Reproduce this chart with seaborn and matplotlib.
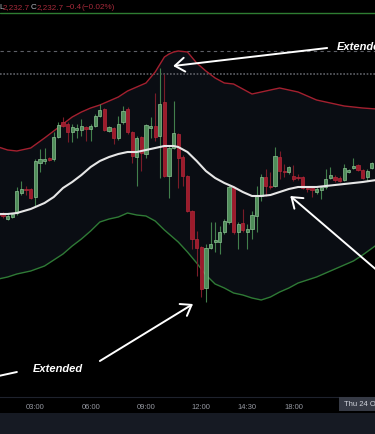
import matplotlib
matplotlib.use("Agg")
import matplotlib.pyplot as plt
from matplotlib.patches import Rectangle
import numpy as np
import pandas as pd
import seaborn as sns

# 15 min bars, counted from 00:00 (the 17:00-18:00 break is skipped)
bar_index = list(range(4, 86))
opens = [2278.6, 2278.5, 2278.0, 2278.2, 2278.6, 2280.6, 2281.0, 2281.0, 2280.2, 2283.6,
         2283.8, 2284.1, 2284.0, 2286.2, 2287.7, 2287.5, 2286.7, 2286.9, 2286.9, 2287.2,
         2287.0, 2287.3, 2288.3, 2289.0, 2286.8, 2287.1, 2286.1, 2287.7, 2289.0, 2286.7,
         2284.2, 2286.2, 2284.5, 2287.1, 2287.3, 2286.3, 2289.7, 2282.3, 2285.1, 2286.5,
         2284.2, 2282.3, 2278.8, 2276.0, 2275.2, 2271.1, 2275.1, 2275.7, 2275.7, 2276.7,
         2277.7, 2281.2, 2276.7, 2277.6, 2276.7, 2277.0, 2278.3, 2280.3, 2282.2, 2281.3,
         2281.3, 2284.2, 2282.8, 2282.7, 2282.3, 2282.2, 2282.2, 2281.1, 2281.1, 2280.7,
         2280.9, 2281.2, 2282.1, 2282.2, 2282.1, 2281.9, 2282.7, 2283.1, 2283.4, 2282.9,
         2282.2, 2283.1]
highs = [2278.8, 2278.7, 2278.5, 2278.6, 2281.2, 2281.8, 2281.3, 2281.1, 2284.0, 2285.0,
         2285.1, 2284.2, 2286.7, 2287.7, 2288.2, 2287.7, 2287.5, 2287.5, 2288.0, 2287.3,
         2287.5, 2288.5, 2289.5, 2289.1, 2287.3, 2287.2, 2288.3, 2289.3, 2289.2, 2286.8,
         2286.3, 2286.3, 2287.5, 2288.2, 2290.6, 2293.1, 2292.5, 2285.3, 2289.8, 2286.6,
         2284.4, 2282.4, 2278.9, 2276.8, 2275.3, 2275.5, 2277.7, 2277.7, 2277.3, 2278.0,
         2281.4, 2281.3, 2277.7, 2279.0, 2277.5, 2278.8, 2281.3, 2282.5, 2283.0, 2282.7,
         2285.2, 2284.8, 2283.5, 2283.3, 2283.4, 2282.5, 2282.3, 2281.3, 2281.3, 2281.2,
         2281.3, 2283.0, 2283.2, 2282.4, 2282.3, 2283.5, 2283.0, 2284.1, 2283.5, 2283.0,
         2283.0, 2283.7]
lows = [2278.2, 2278.1, 2277.9, 2278.1, 2278.4, 2280.4, 2280.4, 2280.0, 2279.3, 2282.7,
        2283.5, 2283.8, 2283.8, 2286.1, 2287.2, 2285.7, 2285.7, 2286.1, 2286.3, 2285.8,
        2285.8, 2287.2, 2288.2, 2286.8, 2286.7, 2285.5, 2285.9, 2287.5, 2286.5, 2283.6,
        2281.3, 2282.8, 2284.1, 2286.1, 2285.8, 2282.1, 2282.2, 2280.1, 2285.0, 2281.1,
        2281.3, 2278.7, 2275.0, 2272.3, 2270.2, 2269.7, 2275.0, 2274.7, 2274.5, 2276.5,
        2277.5, 2276.5, 2275.0, 2276.7, 2275.0, 2276.0, 2276.7, 2279.8, 2280.3, 2281.0,
        2281.2, 2282.0, 2282.2, 2282.5, 2281.8, 2281.9, 2281.0, 2280.7, 2280.2, 2280.5,
        2280.0, 2281.0, 2282.0, 2281.7, 2281.7, 2281.8, 2282.6, 2283.0, 2282.8, 2282.0,
        2281.8, 2283.0]
closes = [2278.4, 2278.3, 2278.3, 2278.5, 2280.8, 2281.0, 2280.9, 2280.1, 2283.8, 2284.0,
          2284.0, 2283.9, 2286.2, 2287.4, 2287.3, 2286.7, 2287.2, 2287.1, 2287.3, 2287.0,
          2287.3, 2288.3, 2288.9, 2286.9, 2287.2, 2286.1, 2287.5, 2288.8, 2286.7, 2284.3,
          2286.1, 2284.6, 2287.4, 2287.3, 2286.2, 2289.5, 2282.3, 2285.1, 2286.6, 2284.1,
          2282.3, 2278.8, 2276.0, 2275.1, 2271.0, 2275.1, 2275.5, 2275.9, 2276.7, 2277.8,
          2281.2, 2276.7, 2277.5, 2276.9, 2277.0, 2278.4, 2280.3, 2282.2, 2281.3, 2281.2,
          2284.3, 2282.8, 2282.7, 2283.2, 2282.0, 2282.1, 2281.1, 2281.0, 2280.9, 2281.0,
          2281.2, 2282.0, 2282.4, 2281.9, 2281.8, 2283.1, 2282.9, 2283.3, 2282.9, 2282.1,
          2282.8, 2283.6]

# bollinger bands
band_index = [3, 4, 6, 8, 11, 14, 16, 18, 20, 22, 24, 26, 28, 30, 32, 34, 36, 38, 40, 41,
              42, 43, 45, 47, 49, 51, 53, 55, 57, 59, 61, 63, 65, 67, 69, 71, 73, 75, 77, 79,
              81, 83, 86]
band_upper = [2285.3, 2285.2, 2284.9, 2284.8, 2285.1, 2286.1, 2286.8, 2287.5, 2288.2, 2288.7,
              2289.1, 2289.4, 2289.8, 2290.2, 2290.8, 2291.2, 2291.6, 2292.7, 2294.2, 2294.5,
              2294.7, 2294.8, 2294.7, 2293.6, 2292.8, 2292.1, 2291.6, 2291.5, 2291.0, 2290.5,
              2290.7, 2290.9, 2291.1, 2290.9, 2290.7, 2290.3, 2289.9, 2289.7, 2289.5, 2289.3,
              2289.2, 2289.1, 2289.0]
band_mid = [2278.5, 2278.5, 2278.5, 2278.6, 2279.0, 2279.6, 2280.2, 2281.1, 2281.7, 2282.4,
            2283.2, 2283.8, 2284.2, 2284.5, 2284.7, 2284.7, 2284.9, 2285.1, 2285.3, 2285.3,
            2285.3, 2285.2, 2284.7, 2283.8, 2282.8, 2282.1, 2281.6, 2281.2, 2280.7, 2280.3,
            2280.3, 2280.4, 2280.7, 2281.0, 2281.2, 2281.2, 2281.2, 2281.3, 2281.4, 2281.5,
            2281.6, 2281.7, 2281.9]
band_lower = [2271.9, 2272.0, 2272.2, 2272.5, 2272.8, 2273.3, 2273.9, 2274.5, 2275.3, 2276.0,
              2276.8, 2277.7, 2278.0, 2278.2, 2278.6, 2278.4, 2278.3, 2277.8, 2276.9, 2276.5,
              2276.1, 2275.7, 2274.7, 2273.6, 2272.4, 2271.5, 2271.1, 2270.6, 2270.4, 2270.1,
              2269.9, 2270.2, 2270.7, 2271.1, 2271.6, 2271.9, 2272.2, 2272.6, 2273.0, 2273.4,
              2273.8, 2274.4, 2275.4]

tick_index = [12, 24, 36, 48, 58, 68]
tick_labels = ["03:00", "06:00", "09:00", "12:00", "14:30", "18:00"]

top_line = 2298.6
dash_line = 2294.8
dot_line = 2292.5

sns.set_theme(style="dark")
plt.rcParams["font.family"] = ["Liberation Sans", "DejaVu Sans"]

W, H = 375, 435
fig = plt.figure(figsize=(W / 100, H / 100), dpi=100, facecolor="black")
ax = fig.add_axes([0, 37 / H, 1, 398 / H])
ax.set_facecolor("black")
ax.grid(False)

# band cloud + lines
ax.fill_between(band_index, band_lower, band_upper, color="#0a0d13", lw=0, zorder=1)
bands = pd.DataFrame({"bar": band_index, "upper": band_upper, "mid": band_mid, "lower": band_lower})
sns.lineplot(data=bands, x="bar", y="upper", color="#a3202f", lw=1.0, ax=ax, zorder=3)
sns.lineplot(data=bands, x="bar", y="lower", color="#2f7a36", lw=1.0, ax=ax, zorder=3)
sns.lineplot(data=bands, x="bar", y="mid", color="#e6e6e6", lw=1.5, ax=ax, zorder=6)

ax.axhline(top_line, color="#2e7d32", lw=1.0, zorder=2)
ax.axhline(dash_line, color="#5d5f66", lw=0.8, ls=(0, (3, 3)), zorder=2)
ax.axhline(dot_line, color="#5d5f66", lw=1.2, ls=(0, (1, 1)), zorder=2)

# candles
df = pd.DataFrame({"bar": bar_index, "open": opens, "high": highs, "low": lows, "close": closes})
up = df["close"] >= df["open"]
body_lo = np.minimum(df["open"], df["close"])
body_h = np.maximum((df["close"] - df["open"]).abs(), 0.1)
wick_c = np.where(up, "#427f4c", "#7a1c28")
fill_c = np.where(up, "#4f8d59", "#9c1b2b")
edge_c = np.where(up, "#8cc293", "#b3283a")
ax.vlines(df["bar"], df["low"], df["high"], colors=wick_c, lw=0.8, zorder=4)
ax.bar(df["bar"], body_h, bottom=body_lo, width=0.7, color=fill_c, edgecolor=edge_c,
       lw=0.5, zorder=5)

ax.set_xlim(4.34, 85.68)
ax.set_ylim(2260.2, 2300.0)
ax.set_xlabel("")
ax.set_ylabel("")
ax.set_yticks([])
ax.set_xticks(tick_index, tick_labels)
ax.tick_params(axis="x", length=0, colors="#9598a1", labelsize=5.5, pad=4)
for s in ["top", "left", "right"]:
    ax.spines[s].set_visible(False)
ax.spines["bottom"].set_color("#1e222d")
ax.spines["bottom"].set_linewidth(0.8)

# annotations
arrow = dict(arrowstyle="->,head_length=0.7,head_width=0.5", color="white", lw=1.4,
             mutation_scale=10, shrinkA=0, shrinkB=0)
ax.annotate("", xy=(41.9, 2293.3), xytext=(75.3, 2295.1), arrowprops=arrow, annotation_clip=False)
ax.annotate("", xy=(46.2, 2269.5), xytext=(26.0, 2263.8), arrowprops=arrow, annotation_clip=False)
ax.annotate("", xy=(67.3, 2280.3), xytext=(91.1, 2270.9), arrowprops=arrow, annotation_clip=False)
ax.plot([8.0, 3.0], [2262.7, 2262.2], color="white", lw=1.4, zorder=7)
txt = dict(color="white", fontsize=8, fontweight="bold", fontstyle="italic", va="center", ha="left")
ax.text(77.4, 2295.3, "Extended", **txt)
ax.text(11.5, 2263.1, "Extended", **txt)

# header legend
hdr = [("L", -1, "#b2b5be"), ("2,232.7", 3, "#a52a3a"), ("C", 31, "#b2b5be"),
       ("2,232.7", 37, "#a52a3a"), ("\u22120.4", 66, "#a52a3a"), ("(\u22120.02%)", 82, "#a52a3a")]
for s, x, c in hdr:
    fig.text(x / W, 1 - 7.5 / H, s, color=c, fontsize=5.9, va="center", ha="left")

# bottom toolbar and date box
fig.add_artist(Rectangle((0, 0), 1, 21 / H, transform=fig.transFigure, color="#161a23", lw=0))
fig.add_artist(Rectangle((339 / W, 23 / H), 40 / W, 14 / H, transform=fig.transFigure,
                         color="#363a45", lw=0))
fig.text(344 / W, 1 - 405 / H, "Thu 24 Oct '24", color="#d1d4dc", fontsize=5.5,
         va="center", ha="left")

fig.savefig("out.png", dpi=100, facecolor="black")
